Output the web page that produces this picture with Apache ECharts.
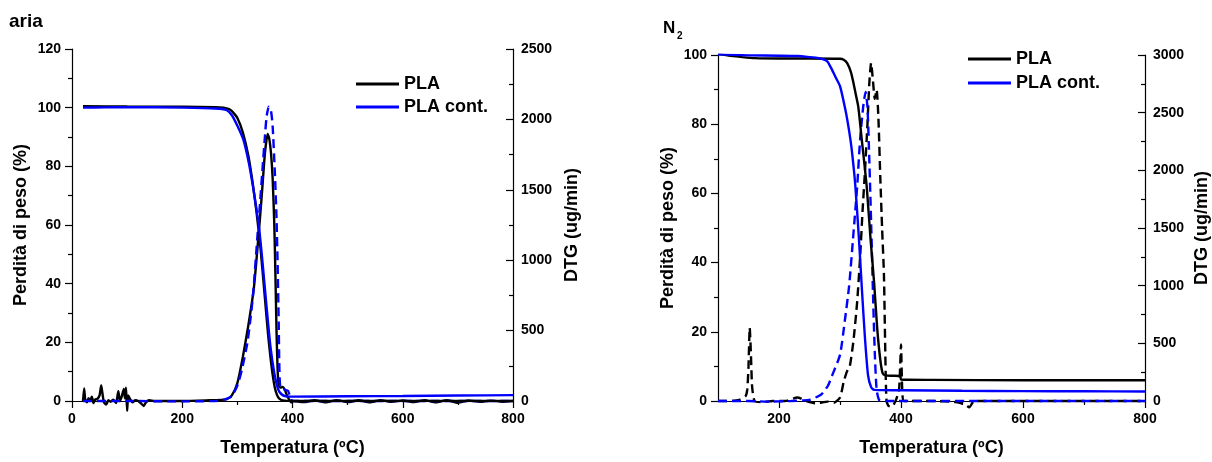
<!DOCTYPE html>
<html>
<head>
<meta charset="utf-8">
<title>TGA PLA</title>
<script src="https://cdn.jsdelivr.net/npm/echarts@6.0.0/dist/echarts.min.js"></script>
<style>
    html, body { margin: 0; padding: 0; background: #fff; }
    #chart { width: 1212px; height: 462px; }
</style>
</head>
<body>
<div id="chart"></div>
<script type="text/javascript">
    // [temperatura ºC, valore] - aria
    var ariaPlaPeso = [[20,100.5],[100,100.4],[200,100.3],[260,100.2],[275,100],[285,99.5],[290,98.8],[300,96.5],[310,91.5],[320,83.5],[328,74],[335,64],[342,52],[350,35],[356,22],[360,15],[364,9],[368,4.5],[372,2],[376,0.8],[382,0.2],[400,0],[800,0]];
    var ariaContPeso = [[20,100],[60,100.1],[100,100.2],[200,100],[260,99.7],[280,99.2],[290,97.4],[300,93.8],[311,89],[321,81],[328,73.5],[335,65],[340,58],[346,46.5],[353,32],[360,18.5],[367,9.5],[374,4],[380,2.3],[388,1.6],[400,1.5],[500,1.6],[600,1.7],[700,1.85],[800,2]];
    var ariaPlaDtg = [[20,0],[22,90],[24,10],[27,-10],[30,20],[33,5],[36,30],[39,-15],[42,10],[46,15],[50,40],[53,110],[55,60],[58,-10],[62,-25],[66,5],[70,-5],[75,10],[80,-15],[84,70],[87,0],[90,30],[94,85],[96,20],[98,95],[100,-70],[102,40],[106,10],[110,-10],[115,5],[120,0],[126,-20],[130,-35],[134,-10],[140,5],[150,0],[200,0],[250,5],[270,8],[280,12],[290,40],[300,128],[310,315],[320,540],[330,805],[340,1250],[345,1500],[350,1760],[355,1896],[358,1860],[361,1760],[364,1580],[367,1250],[369,900],[371,500],[373,220],[375,110],[378,95],[382,100],[386,80],[390,40],[394,10],[398,-10],[400,0],[420,-8],[440,5],[460,-10],[480,6],[500,-8],[520,5],[540,-10],[560,6],[580,-6],[600,4],[620,-8],[640,6],[660,-10],[680,5],[700,-12],[720,4],[740,-6],[760,3],[780,-5],[800,0]];
    var ariaContDtg = [[20,0],[100,0],[200,-3],[260,0],[270,5],[280,15],[290,35],[300,110],[308,220],[318,410],[324,590],[329,780],[336,1150],[341,1400],[346,1670],[350,1880],[353,2020],[357,2090],[361,2060],[364,1950],[368,1620],[371,1300],[373,970],[375,550],[376,270],[378,94],[385,82],[392,72],[396,25],[400,0],[800,0]];

    // N2
    var n2PlaPeso = [[100,100.3],[120,99.8],[140,99.4],[160,99.1],[200,99],[250,99],[300,98.9],[306,98.6],[312,97.6],[318,95],[322,92],[326,88.5],[330,85],[336,75],[340,68.5],[344,61.5],[350,47],[356,34],[361,21],[366,12],[370,8],[375,7.4],[385,7.3],[399,7.2],[400,6.2],[450,6.1],[600,6.0],[800,6.0]];
    var n2ContPeso = [[100,100.2],[150,99.9],[200,99.8],[230,99.7],[250,99.4],[265,99.1],[275,98.6],[280,98],[287,95.7],[293,93.5],[300,91],[309,84],[315,78],[319,73],[325,62.5],[331,47],[336,32],[341,18],[346,7.4],[351,4],[356,3.2],[370,3.15],[400,3.1],[500,2.95],[600,2.85],[700,2.8],[800,2.75]];
    var n2PlaDtg = [[100,0],[120,0],[135,10],[145,40],[148,100],[150,300],[152,635],[154,400],[156,120],[160,0],[170,-10],[190,0],[210,0],[230,30],[245,0],[260,-20],[280,-5],[290,-15],[300,30],[306,165],[311,250],[316,300],[322,520],[328,850],[333,1250],[337,1650],[341,2000],[345,2400],[348,2750],[351,2930],[354,2780],[357,2620],[360,2700],[363,2450],[366,1950],[369,1500],[372,1100],[374,500],[376,20],[379,-40],[385,-50],[391,0],[395,60],[397,110],[399,350],[400,490],[402,100],[405,0],[450,0],[490,-10],[505,-30],[512,-55],[520,0],[600,0],[800,0]];
    var n2ContDtg = [[100,0],[150,0],[180,-5],[220,0],[240,5],[250,10],[260,30],[270,60],[280,130],[287,220],[300,400],[308,700],[315,1000],[322,1450],[328,1850],[333,2270],[338,2550],[342,2680],[345,2550],[348,2100],[351,1550],[354,950],[357,420],[360,100],[364,10],[370,0],[800,0]];

    var xTicksN2 = [200, 400, 600, 800];
    var xMinorN2 = [300, 500, 700];

    var font = 'Liberation Sans';
    var nero = '#000000';
    var blu = '#0000ff';

    var myChart = echarts.init(document.getElementById('chart'));

    function asse(o) {
        var base = {
            type: 'value',
            splitLine: {show: false},
            axisLine: {show: true, onZero: false, lineStyle: {color: nero, width: 1.2}},
            axisTick: {show: true, length: 7, lineStyle: {color: nero, width: 1.2}},
            minorTick: {show: true, splitNumber: 2, length: 4, lineStyle: {color: nero, width: 1.2}},
            axisLabel: {color: nero, fontFamily: font, fontWeight: 'bold', fontSize: 14, margin: 11,
                formatter: function (v) { return String(v); }},
            nameLocation: 'middle',
            nameTextStyle: {color: nero, fontFamily: font, fontWeight: 'bold', fontSize: 18}
        };
        for (var k in o) {
            if (typeof o[k] === 'object' && !Array.isArray(o[k]) && base[k]) {
                for (var j in o[k]) base[k][j] = o[k][j];
            } else {
                base[k] = o[k];
            }
        }
        return base;
    }

    function linea(nome, dati, colore, x, y, tratteggio) {
        return {
            name: nome,
            type: 'line',
            xAxisIndex: x,
            yAxisIndex: y,
            data: dati,
            symbol: 'none',
            smooth: 0.2,
            clip: !tratteggio && y % 2 === 0,
            animation: false,
            lineStyle: {color: colore, width: 2.4, type: tratteggio ? [9, 5] : 'solid'},
            itemStyle: {color: colore}
        };
    }

    // icona legenda: solo linea, senza simbolo
    var iconaLinea = 'path://M0,0 L40,0 L40,2.6 L0,2.6 Z';

    function legenda(left, top, gap) {
        return {
            left: left,
            top: top,
            orient: 'vertical',
            itemWidth: 43,
            itemHeight: 18,
            itemGap: gap,
            selectedMode: false,
            data: [{name: 'PLA', icon: iconaLinea}, {name: 'PLA cont.', icon: iconaLinea}],
            textStyle: {color: nero, fontFamily: font, fontWeight: 'bold', fontSize: 18}
        };
    }

    var option = {
        backgroundColor: '#fff',
        animation: false,
        title: [
            {text: 'aria', left: 9, top: 12, padding: 0, textStyle: {fontFamily: font, fontWeight: 'bold', fontSize: 19, color: nero}},
            {text: 'N', left: 663, top: 20, padding: 0, textStyle: {fontFamily: font, fontWeight: 'bold', fontSize: 17, color: nero}},
            {text: '2', left: 677, top: 31, padding: 0, textStyle: {fontFamily: font, fontWeight: 'bold', fontSize: 10, color: nero}}
        ],
        legend: [legenda(351, 70, 5), legenda(963, 45, 6)],
        grid: [
            {left: 72, top: 49, width: 441, height: 356},
            {left: 718, top: 55, width: 432, height: 351}
        ],
        xAxis: [
            asse({gridIndex: 0, min: 0, max: 800, interval: 200, name: 'Temperatura (ºC)', nameGap: 38}),
            asse({gridIndex: 1, position: 'bottom', min: 100, max: 800, name: 'Temperatura (ºC)', nameGap: 38,
                axisTick: {customValues: xTicksN2}, axisLabel: {customValues: xTicksN2}, minorTick: {show: false}}),
            asse({gridIndex: 1, position: 'bottom', min: 100, max: 800, axisLine: {show: false}, axisLabel: {show: false},
                axisTick: {customValues: xMinorN2, length: 4}, minorTick: {show: false}})
        ],
        yAxis: [
            asse({gridIndex: 0, position: 'left', min: 0, max: 120, interval: 20, name: 'Perdità di peso (%)', nameGap: 42, nameRotate: 90}),
            asse({gridIndex: 0, position: 'right', min: 0, max: 2500, interval: 500, name: 'DTG (ug/min)', nameGap: 50, nameRotate: 90,
                axisTick: {inside: true}, axisLabel: {margin: 8}}),
            asse({gridIndex: 1, position: 'left', min: 0, max: 100, interval: 20, name: 'Perdità di peso (%)', nameGap: 41, nameRotate: 90}),
            asse({gridIndex: 1, position: 'right', min: 0, max: 3000, interval: 500, name: 'DTG (ug/min)', nameGap: 48, nameRotate: 90,
                axisTick: {inside: true}, axisLabel: {margin: 8}})
        ],
        series: [
            linea('PLA DTG', ariaPlaDtg, nero, 0, 1, false),
            linea('PLA cont. DTG', ariaContDtg, blu, 0, 1, true),
            linea('PLA', ariaPlaPeso, nero, 0, 0, false),
            linea('PLA cont.', ariaContPeso, blu, 0, 0, false),
            linea('PLA DTG N2', n2PlaDtg, nero, 1, 3, true),
            linea('PLA cont. DTG N2', n2ContDtg, blu, 1, 3, true),
            linea('PLA', n2PlaPeso, nero, 1, 2, false),
            linea('PLA cont.', n2ContPeso, blu, 1, 2, false)
        ]
    };

    myChart.setOption(option, true);
</script>
</body>
</html>
